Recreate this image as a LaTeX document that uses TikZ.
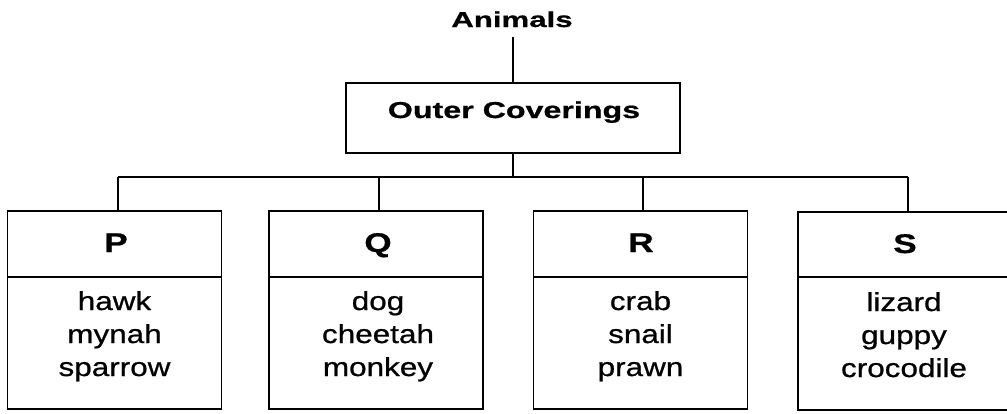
\documentclass[tikz,border=0pt]{standalone}
\usepackage{fontspec}
\newfontfamily\fontAnimals[FakeStretch=1.45,FakeBold=0.8]{Liberation Sans}
\newfontfamily\fontOuter[FakeStretch=1.40,FakeBold=0.8]{Liberation Sans}
\newfontfamily\fontHead[FakeStretch=1.30,FakeBold=0.8]{Liberation Sans}
\newfontfamily\fontItem[FakeStretch=1.21,FakeBold=0.8]{Liberation Sans}
\begin{document}
\begin{tikzpicture}[x=1pt,y=-1pt,
  ln/.style={line width=1.8pt},
  box/.style={draw,line width=1.8pt,rectangle,inner sep=0pt,outer sep=0pt},
  ttl/.style={font=\fontAnimals\bfseries\fontsize{21.5}{25}\selectfont,anchor=base,inner sep=0pt},
  outer/.style={box,minimum width=334pt,minimum height=70pt},
  outertxt/.style={font=\fontOuter\bfseries\fontsize{23}{27}\selectfont,anchor=base,inner sep=0pt},
  grp/.style={box,minimum width=214pt,minimum height=198pt},
  head/.style={font=\fontHead\bfseries\fontsize{27}{30}\selectfont,anchor=base,inner sep=0pt},
  item/.style={font=\fontItem\fontsize{26}{32}\selectfont,anchor=base,inner sep=0pt}]
\useasboundingbox (0,0) rectangle (1007,413);
% title
\node[ttl] (A) at (512,27) {Animals};
\coordinate (Abot) at (513,37);
\node[outer] (O) at (513,118) {};
\node[outertxt] (Ot) at (514,118) {Outer Coverings};
\draw[ln] (Abot) -- (O.north);
% bus
\coordinate (bus) at (513,177);
\coordinate (bP) at (118,177);
\coordinate (bS) at (908,177);
\draw[ln] (O.south) -- (bus);
\draw[ln] (bP) -- (bS);
% boxes
\node[grp] (P) at (114.5,310) {};
\node[grp] (Q) at (376,310) {};
\node[grp] (R) at (640.5,310) {};
\node[grp] (S) at (905,311) {};
\foreach \b/\x in {P/118,Q/379,R/643,S/908}{
  \coordinate (t\b) at (\x,177);
  \draw[ln] (t\b) -- (t\b |- \b.north);
  \draw[ln] (\b.west |- 0,277) -- (\b.east |- 0,277);
}
% headers
\node[head] (Ph) at (116,252) {P};
\node[head] (Qh) at (378,252) {Q};
\node[head] (Rh) at (641,252) {R};
\node[head] (Sh) at (905,253) {S};
% items
\node[item] (P1) at (114.5,310) {hawk};
\node[item] (P2) at (114.5,343) {mynah};
\node[item] (P3) at (114.5,376) {sparrow};
\node[item] (Q1) at (378,310) {dog};
\node[item] (Q2) at (378,343) {cheetah};
\node[item] (Q3) at (378,376) {monkey};
\node[item] (R1) at (640.5,310) {crab};
\node[item] (R2) at (640.5,343) {snail};
\node[item] (R3) at (640.5,376) {prawn};
\node[item] (S1) at (904,311) {lizard};
\node[item] (S2) at (904,344) {guppy};
\node[item] (S3) at (904,377) {crocodile};
\end{tikzpicture}
\end{document}
